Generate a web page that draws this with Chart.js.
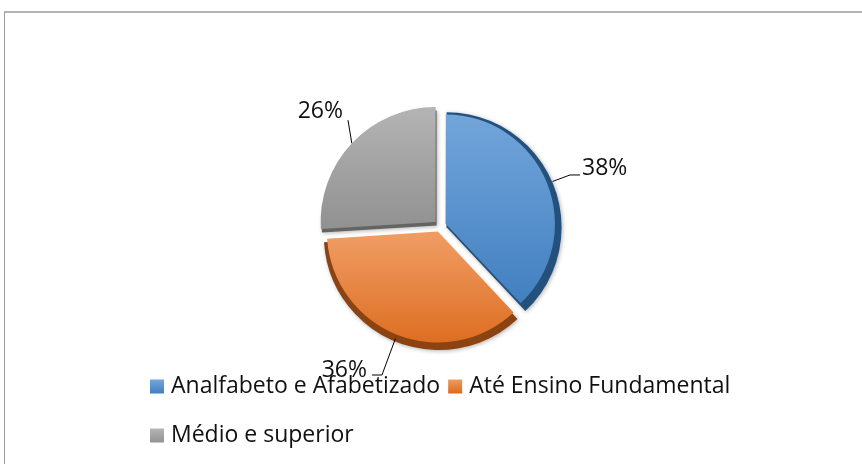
<!DOCTYPE html>
<html>
<head>
<meta charset="utf-8">
<script src="https://cdn.jsdelivr.net/npm/chart.js@4.4.0/dist/chart.umd.min.js"></script>
<style>
  body { margin: 0; background: #ffffff; }
  .frame {
    position: absolute;
    left: 4px;
    top: 11px;
    width: 900px;
    height: 500px;
    border-top: 2px solid #b3b3b3;
    border-left: 1px solid #9c9c9c;
  }
  #pieChart { position: absolute; left: 0; top: 0; }
</style>
</head>
<body>
<div class="frame"></div>
<canvas id="pieChart" width="862" height="464"></canvas>
<script>
const categories = ['Analfabeto e Afabetizado', 'Até Ensino Fundamental', 'Médio e superior'];
const shares = [38, 36, 26];

const lightColors = ['#74a7db', '#ef9b62', '#b5b5b5'];
const darkColors = ['#417fc0', '#dc6a1c', '#929292'];
const sideColors = ['#24507c', '#8c4312', '#646464'];

const fontFamily = '"Open Sans", "Noto Sans", sans-serif';
const fontSize = 23;
const explode = 24; // chart.js moves a slice by offset / 4

// leader line bends and label anchor, relative to the slice edge point
const leaderSteps = [
  [[17.5, -6.5], [27.5, -6.5]],
  [[-13.5, 36.5], [-23.5, 36.5]],
  [[-3.8, -23]]
];
const labelSpots = [
  { dx: 29.5, dy: -6.5, align: 'left' },
  { dx: -28.5, dy: 38.5, align: 'right' },
  { dx: -8.8, dy: -25, align: 'right' }
];

function total() {
  return shares.reduce((a, b) => a + b, 0);
}

function sliceGradient(context) {
  const chart = context.chart;
  const area = chart.chartArea;
  const i = context.dataIndex;
  if (!area) return darkColors[i];
  const r = (Math.min(area.width, area.height) - explode) / 2;
  const before = shares.slice(0, i).reduce((a, b) => a + b, 0);
  const start = -Math.PI / 2 + before / total() * 2 * Math.PI;
  const end = start + shares[i] / total() * 2 * Math.PI;
  const mid = (start + end) / 2;
  const cy = (area.top + area.bottom) / 2 + Math.sin(mid) * explode / 4;
  let top = cy;
  let bottom = cy;
  for (let k = 0; k <= 40; k++) {
    const y = cy + Math.sin(start + (end - start) * k / 40) * r;
    top = Math.min(top, y);
    bottom = Math.max(bottom, y);
  }
  const g = chart.ctx.createLinearGradient(0, top, 0, bottom);
  g.addColorStop(0, lightColors[i]);
  g.addColorStop(1, darkColors[i]);
  return g;
}

function sliceGeometry(arc) {
  const mid = (arc.startAngle + arc.endAngle) / 2;
  const fix = 1 - Math.sin(Math.min(Math.PI, arc.circumference));
  return {
    mid: mid,
    cx: arc.x + Math.cos(mid) * explode / 4,
    cy: arc.y + Math.sin(mid) * explode / 4,
    r: arc.outerRadius + explode * fix
  };
}

const pieDecor = {
  id: 'pieDecor',
  afterDatasetUpdate(chart, args) {
    // keep every exploded slice at the same radius
    args.meta.data.forEach(arc => {
      const fix = 1 - Math.sin(Math.min(Math.PI, arc.circumference));
      arc.outerRadius -= explode * fix;
    });
  },
  beforeDatasetsDraw(chart) {
    const ctx = chart.ctx;
    chart.getDatasetMeta(0).data.forEach((arc, i) => {
      const s = sliceGeometry(arc);
      ctx.save();
      ctx.shadowColor = 'rgba(0, 0, 0, 0.3)';
      ctx.shadowBlur = 4;
      ctx.shadowOffsetX = 1;
      ctx.shadowOffsetY = 1;
      ctx.fillStyle = sideColors[i];
      ctx.beginPath();
      ctx.moveTo(s.cx + 1, s.cy + 3.5);
      ctx.arc(s.cx + 1, s.cy + 3.5, s.r, arc.startAngle, arc.endAngle);
      ctx.closePath();
      ctx.fill();
      ctx.restore();
    });
  },
  afterDatasetsDraw(chart) {
    const ctx = chart.ctx;
    ctx.save();
    ctx.strokeStyle = '#000000';
    ctx.lineWidth = 1;
    ctx.fillStyle = '#111111';
    ctx.font = fontSize + 'px ' + fontFamily;
    ctx.textBaseline = 'alphabetic';
    chart.getDatasetMeta(0).data.forEach((arc, i) => {
      const s = sliceGeometry(arc);
      const ex = s.cx + Math.cos(s.mid) * s.r;
      const ey = s.cy + Math.sin(s.mid) * s.r;
      ctx.beginPath();
      ctx.moveTo(ex, ey);
      leaderSteps[i].forEach(p => ctx.lineTo(ex + p[0], ey + p[1]));
      ctx.stroke();
      const spot = labelSpots[i];
      ctx.textAlign = spot.align;
      ctx.fillText(Math.round(shares[i] / total() * 100) + '%', ex + spot.dx, ey + spot.dy);
    });
    ctx.restore();
  },
  afterDraw(chart) {
    const ctx = chart.ctx;
    const box = 14;
    const gap = 7;
    const itemGap = 8;
    ctx.save();
    ctx.font = fontSize + 'px ' + fontFamily;
    ctx.textBaseline = 'middle';
    ctx.textAlign = 'left';
    const widths = categories.map(c => box + gap + ctx.measureText(c).width);
    const rowWidth = widths[0] + itemGap + widths[1];
    const centerX = (chart.chartArea.left + chart.chartArea.right) / 2;
    const startX = Math.round(centerX - rowWidth / 2);
    const rows = [[0, 1], [2]];
    const rowY = [386.5, 435.5];
    rows.forEach((row, r) => {
      let x = startX;
      row.forEach(i => {
        const y = rowY[r];
        const g = ctx.createLinearGradient(0, y - box / 2, 0, y + box / 2);
        g.addColorStop(0, lightColors[i]);
        g.addColorStop(1, darkColors[i]);
        ctx.fillStyle = g;
        ctx.fillRect(x, y - box / 2, box, box);
        ctx.fillStyle = '#111111';
        ctx.fillText(categories[i], x + box + gap, y);
        x += widths[i] + itemGap;
      });
    });
    ctx.restore();
  }
};

new Chart(document.getElementById('pieChart').getContext('2d'), {
  type: 'pie',
  data: {
    labels: categories,
    datasets: [
      {
        data: shares,
        backgroundColor: sliceGradient,
        borderWidth: 0,
        offset: explode,
        hoverOffset: 0
      }
    ]
  },
  options: {
    responsive: false,
    animation: false,
    layout: {
      padding: { top: 99, bottom: 111, left: 313, right: 295 }
    },
    plugins: {
      legend: { display: false },
      tooltip: { enabled: false }
    }
  },
  plugins: [pieDecor]
});
</script>
</body>
</html>
